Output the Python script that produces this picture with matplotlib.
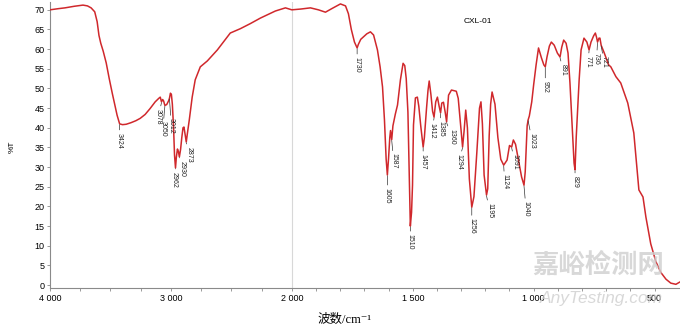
import numpy as np
import matplotlib.pyplot as plt
from matplotlib.ticker import FixedLocator, FuncFormatter

plt.rcParams['font.family'] = ['Liberation Sans', 'DejaVu Sans']

# FTIR spectrum of sample CXL-01: wavenumber (cm-1) and transmittance (%T)
wavenumber = [
    4000, 3930, 3876, 3800, 3727, 3690, 3660, 3630, 3610, 3595, 3580, 3560,
    3535, 3510, 3485, 3462, 3445, 3432, 3424, 3400, 3370, 3330, 3290, 3254,
    3213, 3172, 3130, 3100, 3088, 3078, 3068, 3060, 3050, 3035, 3020, 3012,
    3004, 2996, 2988, 2978, 2970, 2962, 2955, 2946, 2938, 2930, 2920, 2910,
    2900, 2892, 2884, 2873, 2864, 2848, 2824, 2799, 2757, 2699, 2616, 2509,
    2426, 2343, 2260, 2136, 2053, 2000,
    1963, 1923, 1890, 1861, 1832, 1799, 1778, 1766, 1754, 1741, 1730, 1725,
    1715, 1704, 1690, 1675, 1662, 1646, 1635, 1625, 1617, 1610, 1605, 1600,
    1595, 1592, 1587, 1582, 1572, 1563, 1551, 1540, 1533, 1527, 1520, 1515,
    1510, 1505, 1501, 1497, 1489, 1481, 1475, 1467, 1457, 1452, 1443, 1437,
    1432, 1425, 1418, 1412, 1405, 1398, 1391, 1385, 1380, 1373, 1366, 1360,
    1352, 1340, 1320, 1312, 1304, 1294, 1288, 1281, 1274, 1266, 1256, 1247,
    1235, 1224, 1218, 1212, 1205, 1195, 1190, 1184, 1178, 1172, 1160, 1148,
    1136, 1124, 1110, 1100, 1091, 1084, 1075, 1062, 1050, 1040, 1035, 1027,
    1023, 1018, 1008, 1000, 990, 980, 968, 958, 952, 945, 935, 927,
    915, 902, 891, 884, 876, 866, 858, 850, 840, 833, 829, 824,
    812, 804, 792, 780, 771, 763, 752, 745, 740, 736, 730, 726,
    721, 708, 690, 681, 660, 640, 611, 586, 565, 548, 536, 516,
    495, 474, 453, 433, 412, 395,
]
transmittance = [
    70.0, 70.3, 70.5, 70.9, 71.2, 71.0, 70.5, 69.5, 67.0, 63.5, 61.5, 59.5,
    56.5, 52.5, 48.8, 45.6, 43.2, 41.8, 41.0, 40.8, 40.9, 41.3, 41.8, 42.4,
    43.4, 44.9, 46.6, 47.5, 47.8, 46.6, 47.2, 46.8, 45.7, 45.9, 46.8, 47.5,
    48.8, 48.5, 46.0, 40.0, 33.0, 29.8, 32.5, 34.6, 34.0, 32.6, 34.5, 37.5,
    40.0, 40.2, 38.6, 36.4, 38.5, 42.0, 47.8, 52.2, 55.5, 57.0, 59.8, 64.1,
    65.2, 66.5, 67.9, 69.7, 70.5, 70.0,
    70.2, 70.5, 70.0, 69.4, 70.4, 71.5, 71.0, 69.0, 65.0, 61.8, 60.3, 61.2,
    62.5, 63.1, 63.9, 64.4, 63.6, 59.8, 55.5, 50.4, 42.0, 32.0, 28.0, 32.3,
    37.5, 39.3, 37.0, 40.5, 43.5, 45.8, 52.2, 56.4, 55.8, 52.5, 44.0, 30.0,
    15.0, 18.5, 25.4, 40.7, 47.6, 47.8, 45.5, 40.5, 35.1, 37.5, 45.0, 49.5,
    51.9, 48.5, 44.2, 42.7, 46.6, 47.8, 45.5, 43.8, 46.3, 46.5, 44.0, 41.5,
    48.3, 49.6, 49.3, 47.5, 42.0, 35.1, 39.0, 44.5, 40.0, 27.0, 19.8, 22.5,
    33.8, 45.0, 46.6, 41.0, 28.0, 22.9, 24.5, 38.0, 46.0, 49.1, 46.0, 37.5,
    32.0, 30.5, 31.8, 35.5, 35.1, 36.9, 35.8, 31.5, 27.5, 25.4, 28.8, 40.5,
    42.0, 43.0, 46.6, 51.0, 56.0, 60.3, 57.8, 56.0, 55.5, 58.0, 60.8, 61.8,
    61.0, 59.0, 58.0, 60.5, 62.3, 61.5, 59.0, 51.4, 39.4, 31.0, 29.3, 37.7,
    52.2, 59.8, 62.8, 61.8, 59.8, 61.8, 63.4, 64.1, 63.0, 61.8, 62.8, 62.8,
    61.0, 59.0, 56.0, 55.5, 53.0, 51.4, 46.3, 38.7, 24.2, 22.4, 17.3, 10.5,
    6.0, 3.2, 1.5, 0.5, 0.2, 0.8,
]

# labelled absorption bands
peaks = [3424, 3078, 3050, 3012, 2962, 2930, 2873, 1730, 1605, 1587, 1510,
         1457, 1412, 1385, 1360, 1294, 1256, 1195, 1124, 1091, 1040, 1023,
         952, 891, 829, 771, 736, 721]

# label placement: (shift right, gap below curve) in pixels
label_pos = {
    3424: (0, 8), 3078: (-3, 6), 3050: (-2, 15), 3012: (2, 19),
    2962: (-1, 3), 2930: (3, 3), 2873: (3, 4), 1730: (0, 8),
    1605: (0, 12), 1587: (2, 13), 1510: (0, 7), 1457: (0, 6),
    1412: (-2, 5), 1385: (0, 7), 1360: (5, 6), 1294: (-4, 6),
    1256: (0, 10), 1195: (3, 7), 1124: (1, 8), 1091: (3, 6),
    1040: (2, 15), 1023: (4, 12), 952: (0, 13), 891: (3, 6),
    829: (0, 5), 771: (-1, 5), 736: (-1, 10), 721: (3, 10),
}

wn = np.array(wavenumber, dtype=float)
t = np.array(transmittance, dtype=float)
order = np.argsort(wn)


def fwd(x):
    x = np.asarray(x, dtype=float)
    return np.where(x > 2000, 2000 + (x - 2000) / 2, x)


def inv(u):
    u = np.asarray(u, dtype=float)
    return np.where(u > 2000, 2000 + (u - 2000) * 2, u)


fig = plt.figure(figsize=(6.8, 3.27), dpi=100)
ax = fig.add_axes([0.0735, 0.119, 0.9265, 0.875])
ax.set_xscale('function', functions=(fwd, inv))

ax.axvline(2000, color='#d8d8d8', lw=0.8, zorder=0)
ax.plot(wn, t, color='#d0282c', lw=1.1, zorder=3)

for p in peaks:
    y = np.interp(p, wn[order], t[order])
    dx, gap = label_pos[p]
    ax.annotate(str(p), xy=(p, y - 0.2), xytext=(dx * 0.72, -gap * 0.72),
                textcoords='offset points', rotation=270, ha='center',
                va='top', fontsize=5.0, color='#222222',
                arrowprops=dict(arrowstyle='-', lw=0.5, color='#333333',
                                shrinkA=0, shrinkB=0))

ax.text(1232, 67, 'CXL-01', fontsize=6, ha='center', va='center')

ax.set_xlim(4000, 395)
ax.set_ylim(-0.76, 72)

ax.xaxis.set_major_locator(FixedLocator([4000, 3000, 2000, 1500, 1000, 500]))
ax.xaxis.set_minor_locator(FixedLocator(
    [3750, 3500, 3250, 2750, 2500, 2250] + list(range(1900, 400, -100))))
ax.xaxis.set_major_formatter(
    FuncFormatter(lambda v, pos: f"{int(round(v)):,}".replace(',', ' ')))
ax.set_yticks(range(0, 71, 5))

for side in ['top', 'right']:
    ax.spines[side].set_visible(False)
for side in ['left', 'bottom']:
    ax.spines[side].set_color('#8a8a8a')
    ax.spines[side].set_linewidth(0.8)
ax.tick_params(which='major', direction='out', length=2.5, width=0.6,
               color='#8a8a8a', labelsize=6.5, pad=1.5)
ax.tick_params(which='minor', direction='out', length=2, width=0.6,
               color='#8a8a8a')

fig.text(12 / 680, 1 - 147 / 327, '%T', rotation=90, fontsize=6,
         ha='center', va='center')
fig.text(345 / 680, 1 - 320 / 327, '波数/cm⁻¹', fontsize=9,
         family=['Liberation Serif', 'Noto Sans CJK SC', 'DejaVu Serif'],
         ha='center', va='center')

# site watermark
fig.text(598 / 680, 1 - 265 / 327, '嘉峪检测网', fontsize=19,
         family=['Noto Sans CJK SC'], weight='bold', color='#cfcfcf',
         alpha=0.8, ha='center', va='center', zorder=10)
fig.text(601 / 680, 1 - 298 / 327, 'AnyTesting.com', fontsize=12.5,
         style='italic', color='#cfcfcf', alpha=0.8, ha='center',
         va='center', zorder=10)

fig.savefig('out.png', dpi=100)
